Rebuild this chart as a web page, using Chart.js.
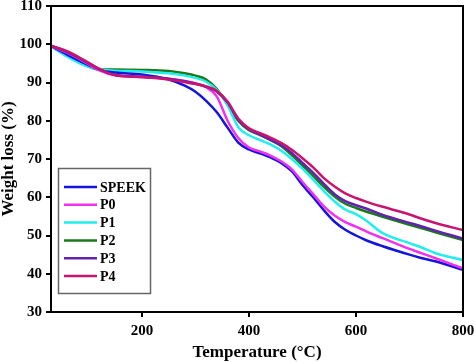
<!DOCTYPE html>
<html>
<head>
<meta charset="utf-8">
<script src="https://cdn.jsdelivr.net/npm/chart.js@4.4.1/dist/chart.umd.min.js"></script>
<style>
  html, body { margin: 0; padding: 0; background: #fff; }
  canvas { display: block; }
</style>
</head>
<body>
<canvas id="tga-chart" width="474" height="363"></canvas>
<script>
// temperature grid (°C) and weight (%)
const temps = [30, 60, 90, 120, 150, 200, 250, 280, 300, 320, 340, 360, 380, 400, 420, 440, 460, 480, 500, 520, 540, 560, 580, 600, 620, 650, 700, 720, 750, 800];

const speek = [99.5, 97.3, 95.2, 93.3, 92.6, 92.1, 90.8, 89.2, 87.6, 85.2, 82.2, 78.2, 74.3, 72.5, 71.5, 70.4, 69.0, 66.8, 63.2, 60.0, 56.6, 53.6, 51.5, 50.0, 48.7, 47.2, 45.0, 44.2, 43.2, 41.0];
const p0 = [99.5, 97.8, 95.6, 93.2, 91.9, 91.5, 91.0, 90.4, 89.8, 88.8, 86.3, 80.0, 75.5, 73.0, 72.0, 70.9, 69.4, 67.3, 64.0, 60.8, 57.6, 55.2, 53.5, 52.3, 51.0, 49.3, 46.5, 45.5, 44.0, 41.4];
const p1 = [99.5, 96.8, 94.6, 93.4, 93.1, 92.9, 92.4, 91.8, 91.2, 90.2, 88.0, 84.0, 78.3, 76.2, 75.0, 73.8, 72.2, 70.0, 67.5, 64.6, 61.6, 58.9, 56.8, 55.6, 53.8, 50.6, 48.0, 47.0, 45.3, 43.6];
const p2 = [99.5, 97.0, 94.8, 93.4, 93.4, 93.3, 93.0, 92.4, 91.8, 90.8, 88.3, 84.3, 80.0, 77.5, 76.3, 75.0, 73.4, 71.0, 68.3, 65.6, 62.7, 60.2, 58.3, 57.2, 56.2, 54.9, 52.8, 52.0, 50.8, 48.8];
const p3 = [99.6, 98.0, 95.8, 93.5, 92.0, 91.5, 91.0, 90.3, 89.7, 88.9, 87.6, 84.8, 80.2, 77.8, 76.4, 75.0, 73.6, 71.6, 69.0, 66.4, 63.5, 60.8, 59.0, 57.9, 57.0, 55.4, 53.3, 52.5, 51.2, 49.2];
const p4 = [99.6, 98.2, 96.0, 93.6, 91.9, 91.4, 90.8, 90.1, 89.6, 89.0, 87.8, 85.0, 80.6, 78.0, 76.8, 75.6, 74.2, 72.4, 70.2, 67.8, 65.0, 62.8, 61.0, 59.8, 58.8, 57.5, 55.5, 54.5, 53.2, 51.4];

const xTickValues = [200, 400, 600, 800];

const seriesNames = ['SPEEK', 'P0', 'P1', 'P2', 'P3', 'P4'];
const seriesColors = ['#1414dc', '#f032f0', '#22eeee', '#1a7a1a', '#6420b0', '#c8146e'];
const seriesValues = [speek, p0, p1, p2, p3, p4];
const drawOrder = [3, 2, 4, 5, 1, 0];

const FONT = "'Liberation Serif', 'Times New Roman', serif";

function toPoints(values) {
    return temps.map((t, i) => ({ x: t, y: values[i] }));
}

// frame around the plot area + legend box inside it
const framePlugin = {
    id: 'frame',
    beforeDraw(chart) {
        const c = chart.ctx;
        c.save();
        c.fillStyle = '#fff';
        c.fillRect(0, 0, chart.width, chart.height);
        c.restore();
    },
    afterDraw(chart) {
        const c = chart.ctx;
        const a = chart.chartArea;
        c.save();
        c.strokeStyle = '#000';
        c.lineWidth = 2;
        c.strokeRect(a.left, a.top, a.right - a.left, a.bottom - a.top);

        // legend
        c.strokeStyle = '#666';
        c.lineWidth = 1.5;
        c.strokeRect(58.5, 168.5, 92, 125);
        c.font = 'bold 14px ' + FONT;
        c.textBaseline = 'middle';
        c.fillStyle = '#000';
        chart.data.datasets.forEach((ds, i) => {
            const y = 187 + i * 17.8;
            c.strokeStyle = ds.borderColor;
            c.lineWidth = 2.5;
            c.beginPath();
            c.moveTo(64, y);
            c.lineTo(97, y);
            c.stroke();
            c.fillText(ds.label, 100, y + 1);
        });
        c.restore();
    }
};

const ctx = document.getElementById('tga-chart').getContext('2d');
const chart = new Chart(ctx, {
    type: 'line',
    data: {
        datasets: seriesNames.map((name, i) => ({
            label: name,
            data: toPoints(seriesValues[i]),
            borderColor: seriesColors[i],
            borderWidth: 2.5,
            pointRadius: 0,
            fill: false,
            cubicInterpolationMode: 'monotone',
            order: drawOrder[i]
        }))
    },
    options: {
        responsive: false,
        animation: false,
        layout: { padding: { top: 6, right: 11, left: 0, bottom: 0 } },
        plugins: {
            legend: { display: false },
            tooltip: { enabled: false }
        },
        scales: {
            x: {
                type: 'linear',
                min: 30,
                max: 800,
                ticks: {
                    color: '#000',
                    padding: 5,
                    font: { family: FONT, size: 15, weight: 'bold' }
                },
                afterBuildTicks(s) {
                    s.ticks = xTickValues.map(v => ({ value: v }));
                },
                afterFit(s) {
                    s.height = 51;
                    s.paddingLeft = 0;
                    s.paddingRight = 0;
                },
                grid: { drawOnChartArea: false, drawTicks: true, tickLength: 5, color: '#000', lineWidth: 2 },
                border: { display: true, color: '#000', width: 2 },
                title: {
                    display: true,
                    text: 'Temperature (°C)',
                    color: '#000',
                    padding: { top: 0, bottom: 0 },
                    font: { family: FONT, size: 17, weight: 'bold' }
                }
            },
            y: {
                min: 30,
                max: 110,
                ticks: {
                    stepSize: 10,
                    color: '#000',
                    padding: 4,
                    font: { family: FONT, size: 15, weight: 'bold' }
                },
                afterFit(s) {
                    s.width = 51;
                    s.paddingTop = 0;
                    s.paddingBottom = 0;
                },
                grid: { drawOnChartArea: false, drawTicks: true, tickLength: 5, color: '#000', lineWidth: 2 },
                border: { display: true, color: '#000', width: 2 },
                title: {
                    display: true,
                    text: 'Weight loss (%)',
                    color: '#000',
                    padding: { top: 0, bottom: 0 },
                    font: { family: FONT, size: 17, weight: 'bold', lineHeight: 1 }
                }
            }
        }
    },
    plugins: [framePlugin]
});
</script>
</body>
</html>
